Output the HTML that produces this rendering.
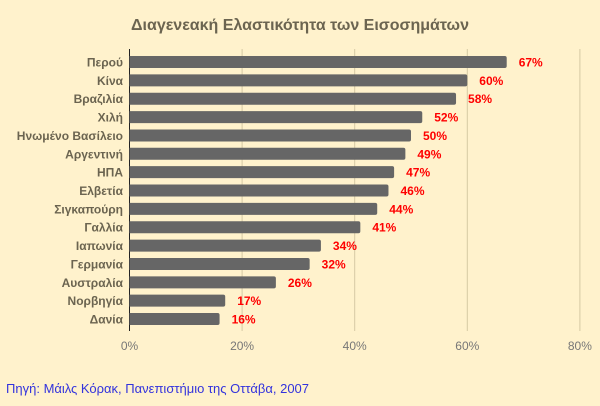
<!DOCTYPE html>
<html><head><meta charset="utf-8"><style>
body{margin:0;background:#FFF2CC;}
svg{display:block;font-family:"Liberation Sans","DejaVu Sans",sans-serif;}
</style></head><body>
<svg id="c" width="600" height="406">
<rect width="600" height="406" fill="#FFF2CC"/>
<text x="300" y="30" text-anchor="middle" font-size="16" font-weight="bold" fill="#6b6450">Διαγενεακή Ελαστικότητα των Εισοσημάτων</text>
<g id="grid"></g><g id="bars"></g>
<text x="6" y="393" font-size="13" fill="#3333dd">Πηγή: Μάιλς Κόρακ, Πανεπιστήμιο της Οττάβα, 2007</text>
</svg>
<script>
const categories=["Περού","Κίνα","Βραζιλία","Χιλή","Ηνωμένο Βασίλειο","Αργεντινή","ΗΠΑ","Ελβετία","Σιγκαπούρη","Γαλλία","Ιαπωνία","Γερμανία","Αυστραλία","Νορβηγία","Δανία"];
const values=[67,60,58,52,50,49,47,46,44,41,34,32,26,17,16];
const ticks=[0,20,40,60,80];
const NS="http://www.w3.org/2000/svg";
const x0=129.5,pxPer=5.63,y0=62,step=18.36,bh=12;
const xs=v=>x0+v*pxPer, ys=i=>y0+i*step;
function mk(t,a,p,txt){const e=document.createElementNS(NS,t);for(const k in a)e.setAttribute(k,a[k]);if(txt!==undefined)e.textContent=txt;p.appendChild(e);return e;}
const g=document.getElementById('grid'),b=document.getElementById('bars');
ticks.forEach(t=>{
 if(t>0){const l=mk('line',{x1:xs(t),x2:xs(t),y1:49,y2:331,stroke:'#d6c9a3','stroke-width':1},g);
 
 }
 const tx=mk('text',{x:xs(t),y:350,'text-anchor':'middle','font-size':12,fill:'#777'},g,t+'%');
 
 
});
const ax=mk('line',{x1:x0,x2:x0,y1:49,y2:331,stroke:'#222','stroke-width':1},g);


categories.forEach((c,i)=>{
 const y=ys(i),w=xs(values[i])-x0;
 const r=mk('path',{d:`M${x0} ${y-bh/2}h${w-2}q2 0 2 2v${bh-4}q0 2 -2 2h${-(w-2)}z`,fill:'#666'},b);
 
 
 const lb=mk('text',{x:123,y:y+4.5,'text-anchor':'end','font-size':12,'font-weight':'bold',fill:'#6b6450'},b,c);
 
 
 const vl=mk('text',{x:xs(values[i])+12,y:y+4.5,'font-size':12,'font-weight':'bold',fill:'#ff0000'},b,values[i]+'%');
 
 
});
</script>
</body></html>
